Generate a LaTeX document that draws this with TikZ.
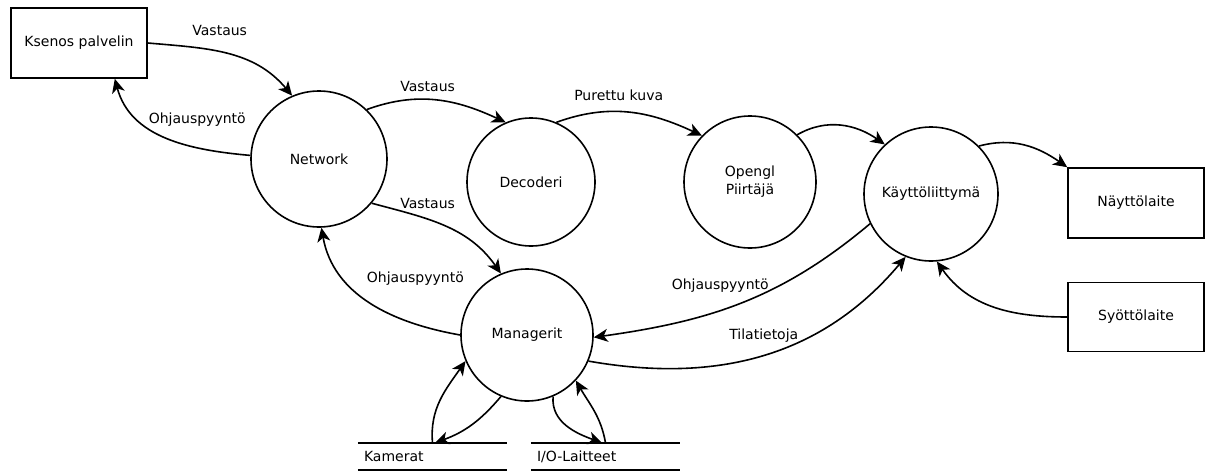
\documentclass[tikz,border=0pt]{standalone}
\usepackage{fontspec}
\setmainfont{DejaVu Sans}
\usetikzlibrary{arrows.meta}

\begin{document}
\begin{tikzpicture}[
  x=1pt, y=1pt,
  proc/.style={draw, circle, line width=1.6pt, inner sep=0pt, minimum size=#1,
               align=center, font=\fontsize{14}{18}\selectfont},
  proc/.default=132pt,
  ext/.style={draw, rectangle, line width=1.6pt, minimum width=136pt,
              minimum height=70pt, font=\fontsize{14}{18}\selectfont},
  store/.style={minimum height=27pt, text width=137pt, inner xsep=6pt,
                inner ysep=0pt, align=left, font=\fontsize{14}{18}\selectfont},
  sline/.style={line width=1.6pt},
  arr/.style={-{Stealth[length=14pt, width=13pt, inset=4pt]}, line width=1.6pt},
  lbl/.style={font=\fontsize{14}{16}\selectfont, inner sep=1pt}]
\useasboundingbox (0,0) rectangle (1213,-472);
% external entities
\node[ext] (ks) at (79,-43) {Ksenos palvelin};
\node[ext] (disp) at (1136,-203) {Näyttölaite};
\node[ext, minimum height=69pt] (inp) at (1136,-317) {Syöttölaite};
% processes
\node[proc=136pt] (net) at (319,-159) {Network};
\node[proc=128pt] (dec) at (531,-182) {Decoderi};
\node[proc] (ogl) at (750,-182) {Opengl\\Piirtäjä};
\node[proc=134pt] (ui) at (931,-194) {Käyttöliittymä};
\node[proc] (man) at (527,-335) {Managerit};
% data stores
\node[store] (cam) at (432.5,-456.5) {Kamerat};
\node[store] (io) at (605.5,-456.5) {I/O-Laitteet};
\draw[sline] (cam.north west) -- (cam.north east) (cam.south west) -- (cam.south east);
\draw[sline] (io.north west) -- (io.north east) (io.south west) -- (io.south east);
% flows
\draw[arr] (ks.east) to[out=-5, in=130] node[lbl, pos=.45, above=15pt, xshift=-1pt] (l1) {Vastaus} (net.113);
\draw[arr] (net.177) to[out=175, in=-75] node[lbl, pos=.3, above=19pt] (l2) {Ohjauspyyntö} (ks.-45);
\draw[arr] (net.46) to[out=20, in=155] node[lbl, pos=.43, above=6pt] (l3) {Vastaus} (dec.113);
\draw[arr] (dec.67) to[out=20, in=155] node[lbl, pos=.42, above=9pt] (l4) {Purettu kuva} (ogl.136);
\draw[arr] (ogl.45) to[out=30, in=145] (ui.133);
\draw[arr] (ui.45) to[out=15, in=145] (disp.north west);
\draw[arr] (net.-40) to[out=-15, in=125] node[lbl, pos=.37, above=9pt] (l5) {Vastaus} (man.113);
\draw[arr] (man.west) to[out=170, in=-80] node[lbl, pos=.23, above=37pt] (l6) {Ohjauspyyntö} (net.-88);
\draw[arr] (ui.206) to[out=220, in=8] node[lbl, pos=.6, above=18pt, xshift=5pt] (l7) {Ohjauspyyntö} (man.-2);
\draw[arr] (man.-23) to[out=-10, in=230] node[lbl, pos=.5, above=11pt] (l8) {Tilatietoja} (ui.248);
\draw[arr] (inp.west) to[out=180, in=-55] (ui.-85);
\draw[arr] (man.247) to[out=230, in=20] ([xshift=2.5pt]cam.north);
\draw[arr] (cam.north) to[out=95, in=235] (man.203);
\draw[arr] (man.-67) to[out=-95, in=160] ([xshift=-3.5pt]io.north);
\draw[arr] (io.north) to[out=100, in=-60] (man.-43);
\end{tikzpicture}
\end{document}
